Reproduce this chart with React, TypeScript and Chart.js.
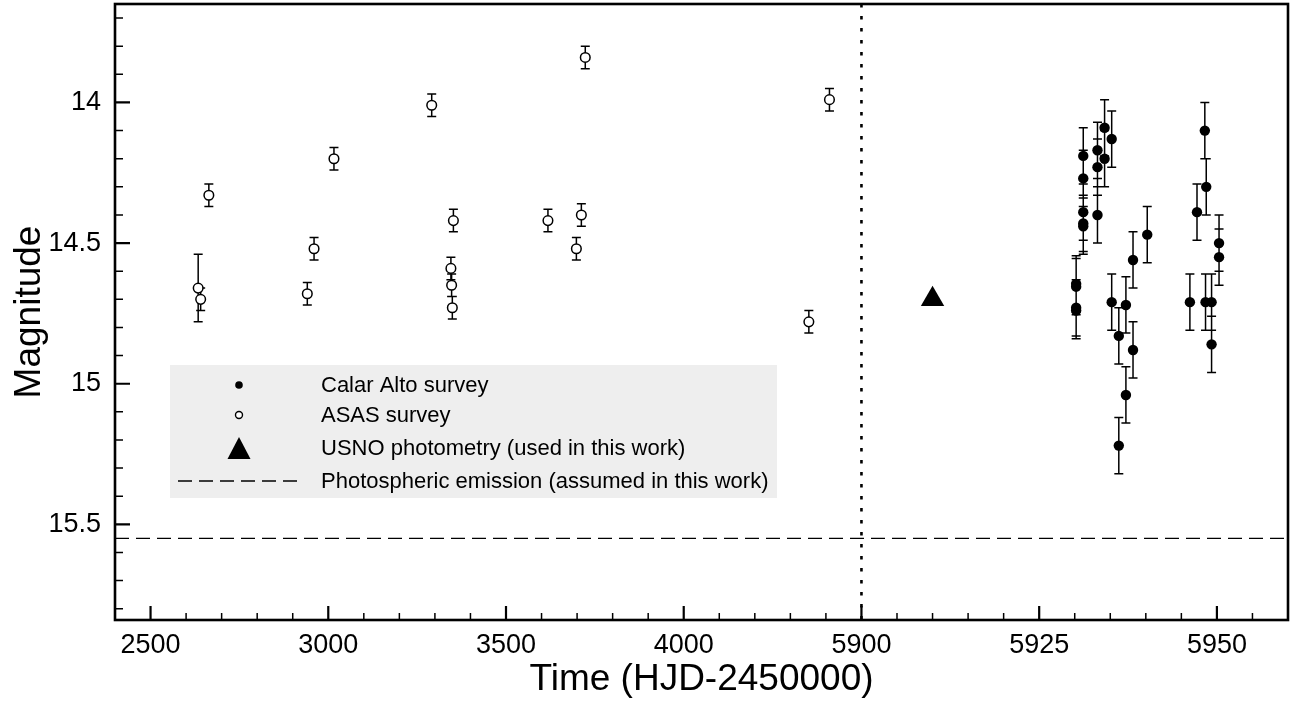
import React, { useEffect, useRef } from "react";
import { Chart, registerables } from "chart.js";

Chart.register(...registerables);

const FONT = "'Liberation Sans', Arial, Helvetica, sans-serif";

// ---- broken time axis: 2400..4500 (left part), 5900..5960 (right part, stretched) ----
const LEFT_END = 4500;
const RIGHT_START = 5900;
const RIGHT_STRETCH = 20;
const toAxis = (t: number) => (t < RIGHT_START ? t : LEFT_END + (t - RIGHT_START) * RIGHT_STRETCH);
const fromAxis = (u: number) => (u < LEFT_END ? u : RIGHT_START + (u - LEFT_END) / RIGHT_STRETCH);

const X_MIN = 2400;
const X_MAX = 5960;
const Y_MIN = 13.65;
const Y_MAX = 15.84;

const xTickLabels = [2500, 3000, 3500, 4000, 5900, 5925, 5950];
const xMinorTicks = [2600, 2700, 2800, 2900, 3100, 3200, 3300, 3400, 3600, 3700, 3800, 3900, 4100, 4200, 4300, 4400, 5905, 5910, 5915, 5920, 5930, 5935, 5940, 5945, 5955];
const yTickLabels = [14, 14.5, 15, 15.5];
const yMinorTicks = [13.7, 13.8, 13.9, 14.1, 14.2, 14.3, 14.4, 14.6, 14.7, 14.8, 14.9, 15.1, 15.2, 15.3, 15.4, 15.6, 15.7, 15.8];

// ---- ASAS survey (open circles) ----
const asasTime = [2634, 2641, 2664, 2941, 2960, 3016, 3291, 3345, 3347, 3349, 3352, 3618, 3698, 3712, 3723, 4352, 4410];
const asasMag = [14.66, 14.70, 14.33, 14.68, 14.52, 14.20, 14.01, 14.59, 14.65, 14.73, 14.42, 14.42, 14.52, 14.40, 13.84, 14.78, 13.99];
const asasErr = [0.12, 0.04, 0.04, 0.04, 0.04, 0.04, 0.04, 0.04, 0.04, 0.04, 0.04, 0.04, 0.04, 0.04, 0.04, 0.04, 0.04];

// ---- Calar Alto survey (filled circles) ----
const caTime = [5930.2, 5930.2, 5930.2, 5930.2, 5931.2, 5931.2, 5931.2, 5931.2, 5931.2, 5933.2, 5933.2, 5933.2, 5934.2, 5934.2, 5935.2, 5935.2, 5936.2, 5936.2, 5937.2, 5937.2, 5938.2, 5938.2, 5940.2, 5946.2, 5947.2, 5948.3, 5948.4, 5948.5, 5949.25, 5949.25, 5950.3, 5950.3];
const caMag = [14.645, 14.655, 14.73, 14.74, 14.19, 14.27, 14.39, 14.43, 14.44, 14.17, 14.23, 14.40, 14.09, 14.20, 14.13, 14.71, 14.83, 15.22, 14.72, 15.04, 14.56, 14.88, 14.47, 14.71, 14.39, 14.10, 14.71, 14.30, 14.71, 14.86, 14.50, 14.55];
const caErr = [0.1, 0.1, 0.1, 0.1, 0.1, 0.1, 0.1, 0.1, 0.1, 0.1, 0.1, 0.1, 0.1, 0.1, 0.1, 0.1, 0.1, 0.1, 0.1, 0.1, 0.1, 0.1, 0.1, 0.1, 0.1, 0.1, 0.1, 0.1, 0.1, 0.1, 0.1, 0.1];

// ---- USNO photometry ----
const usnoTime = [5910];
const usnoMag = [14.70];

// ---- photospheric emission level ----
const photosphereMag = 15.55;
const breakTime = 5900;

const legendLabels = [
  "Calar Alto survey",
  "ASAS survey",
  "USNO photometry (used in this work)",
  "Photospheric emission (assumed in this work)",
];

const errorBarPlugin = {
  id: "errorBars",
  beforeDatasetsDraw(chart: any) {
    const { ctx } = chart;
    const xs = chart.scales.x;
    const ys = chart.scales.y;
    ctx.save();
    ctx.strokeStyle = "#000";
    ctx.lineWidth = 1.5;
    chart.data.datasets.forEach((ds: any) => {
      const errs = ds.errors;
      if (!errs) return;
      const cap = 4.5;
      ctx.beginPath();
      ds.data.forEach((p: any, j: number) => {
        const px = xs.getPixelForValue(p.x);
        const y1 = ys.getPixelForValue(p.y - errs[j]);
        const y2 = ys.getPixelForValue(p.y + errs[j]);
        ctx.moveTo(px, y1);
        ctx.lineTo(px, y2);
        ctx.moveTo(px - cap, y1);
        ctx.lineTo(px + cap, y1);
        ctx.moveTo(px - cap, y2);
        ctx.lineTo(px + cap, y2);
      });
      ctx.stroke();
    });
    ctx.restore();
  },
};

const framePlugin = {
  id: "frameAndLegend",
  afterDraw(chart: any) {
    const { ctx, chartArea: a } = chart;
    const xs = chart.scales.x;
    const ys = chart.scales.y;
    ctx.save();

    // legend
    const lx = 170, ly = 365, lw = 607, lh = 133;
    ctx.fillStyle = "#eeeeee";
    ctx.fillRect(lx, ly, lw, lh);
    const rows = [385, 415, 448, 481];
    const mx = 239;
    const tx = 321;
    ctx.fillStyle = "#000";
    ctx.strokeStyle = "#000";
    ctx.beginPath();
    ctx.arc(mx, rows[0], 3.8, 0, Math.PI * 2);
    ctx.fill();
    ctx.beginPath();
    ctx.lineWidth = 1.4;
    ctx.arc(mx, rows[1], 3.5, 0, Math.PI * 2);
    ctx.fillStyle = "#fff";
    ctx.fill();
    ctx.stroke();
    ctx.fillStyle = "#000";
    ctx.beginPath();
    ctx.moveTo(mx, rows[2] - 11);
    ctx.lineTo(mx - 11.5, rows[2] + 11);
    ctx.lineTo(mx + 11.5, rows[2] + 11);
    ctx.closePath();
    ctx.fill();
    ctx.lineWidth = 1.3;
    ctx.setLineDash([14, 7]);
    ctx.beginPath();
    ctx.moveTo(178, rows[3]);
    ctx.lineTo(300, rows[3]);
    ctx.stroke();
    ctx.setLineDash([]);
    ctx.font = `22px ${FONT}`;
    ctx.textBaseline = "middle";
    ctx.textAlign = "left";
    legendLabels.forEach((t, i) => ctx.fillText(t, tx, rows[i] + 1));

    // inward ticks
    const xTicks = (vals: number[], len: number, w: number) => {
      ctx.lineWidth = w;
      ctx.beginPath();
      vals.forEach((t) => {
        const px = xs.getPixelForValue(toAxis(t));
        ctx.moveTo(px, a.bottom);
        ctx.lineTo(px, a.bottom - len);
      });
      ctx.stroke();
    };
    const yTicks = (vals: number[], len: number, w: number) => {
      ctx.lineWidth = w;
      ctx.beginPath();
      vals.forEach((v) => {
        const py = ys.getPixelForValue(v);
        ctx.moveTo(a.left, py);
        ctx.lineTo(a.left + len, py);
      });
      ctx.stroke();
    };
    xTicks(xTickLabels, 14, 2.2);
    xTicks(xMinorTicks, 7, 1.5);
    yTicks(yTickLabels, 15, 2.2);
    yTicks(yMinorTicks, 8, 1.5);

    ctx.lineWidth = 2.6;
    ctx.strokeRect(a.left, a.top, a.right - a.left, a.bottom - a.top);
    ctx.restore();
  },
};

export default function App() {
  const ref = useRef<HTMLCanvasElement | null>(null);

  useEffect(() => {
    if (!ref.current) return;
    const chart = new Chart(ref.current, {
      type: "scatter",
      data: {
        datasets: [
          {
            label: legendLabels[3],
            data: [
              { x: toAxis(X_MIN), y: photosphereMag },
              { x: toAxis(X_MAX), y: photosphereMag },
            ],
            showLine: true,
            borderColor: "#000",
            borderWidth: 1.3,
            borderDash: [14, 7],
            pointRadius: 0,
          } as any,
          {
            label: "break",
            data: [
              { x: toAxis(breakTime), y: Y_MIN },
              { x: toAxis(breakTime), y: Y_MAX },
            ],
            showLine: true,
            borderColor: "#000",
            borderWidth: 2.6,
            borderDash: [3.5, 8.5],
            pointRadius: 0,
          } as any,
          {
            label: legendLabels[1],
            data: asasTime.map((t, i) => ({ x: toAxis(t), y: asasMag[i] })),
            errors: asasErr,
            pointStyle: "circle",
            pointRadius: 4.8,
            backgroundColor: "#fff",
            borderColor: "#000",
            borderWidth: 1.5,
          } as any,
          {
            label: legendLabels[0],
            data: caTime.map((t, i) => ({ x: toAxis(t), y: caMag[i] })),
            errors: caErr,
            pointStyle: "circle",
            pointRadius: 5.2,
            backgroundColor: "#000",
            borderColor: "#000",
            borderWidth: 0,
          } as any,
          {
            label: legendLabels[2],
            data: usnoTime.map((t, i) => ({ x: toAxis(t), y: usnoMag[i] })),
            pointStyle: "triangle",
            pointRadius: 13.5,
            backgroundColor: "#000",
            borderColor: "#000",
            borderWidth: 0,
          } as any,
        ],
      },
      options: {
        animation: false,
        responsive: false,
        layout: { autoPadding: false, padding: { top: 4, right: 9, left: 0, bottom: 0 } },
        plugins: { legend: { display: false }, tooltip: { enabled: false } },
        scales: {
          x: {
            type: "linear",
            min: toAxis(X_MIN),
            max: toAxis(X_MAX),
            grid: { display: false, drawTicks: false },
            border: { display: false },
            afterBuildTicks: (s: any) => {
              s.ticks = xTickLabels.map((t) => ({ value: toAxis(t) }));
            },
            afterFit: (s: any) => {
              s.height = 89;
              s.paddingLeft = 0;
              s.paddingRight = 0;
              s.paddingTop = 0;
              s.paddingBottom = 0;
            },
            ticks: {
              color: "#000",
              padding: 9,
              maxRotation: 0,
              autoSkip: false,
              font: { family: FONT, size: 27 },
              callback: (v: any) => String(Math.round(fromAxis(Number(v)))),
            },
            title: {
              display: true,
              text: "Time (HJD-2450000)",
              color: "#000",
              font: { family: FONT, size: 37 },
              padding: { top: 0, bottom: 7 },
            },
          },
          y: {
            type: "linear",
            reverse: true,
            min: Y_MIN,
            max: Y_MAX,
            grid: { display: false, drawTicks: false },
            border: { display: false },
            afterBuildTicks: (s: any) => {
              s.ticks = yTickLabels.map((v) => ({ value: v }));
            },
            afterFit: (s: any) => {
              s.width = 115;
              s.paddingLeft = 0;
              s.paddingRight = 0;
              s.paddingTop = 0;
              s.paddingBottom = 0;
            },
            ticks: {
              color: "#000",
              padding: 14,
              autoSkip: false,
              font: { family: FONT, size: 27 },
              callback: (v: any) => String(v),
            },
            title: {
              display: true,
              text: "Magnitude",
              color: "#000",
              font: { family: FONT, size: 37 },
              padding: { top: 8, bottom: 0 },
            },
          },
        },
      },
      plugins: [errorBarPlugin, framePlugin],
    });
    return () => chart.destroy();
  }, []);

  return (
    <div style={{ position: "absolute", left: 0, top: 0, width: 1297, height: 709, background: "#fff" }}>
      <canvas ref={ref} width={1297} height={709} style={{ width: 1297, height: 709 }} />
    </div>
  );
}
